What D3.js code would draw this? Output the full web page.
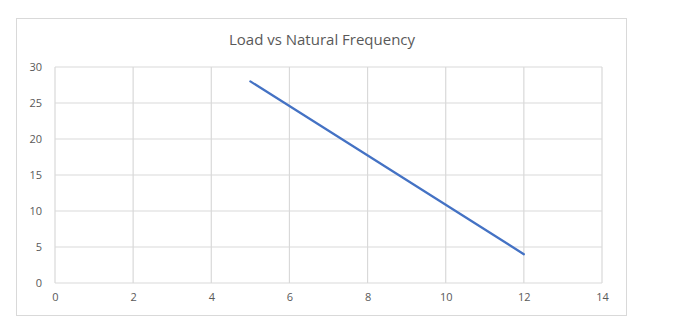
<!DOCTYPE html>
<html><head><meta charset="utf-8">
<script src="https://cdn.jsdelivr.net/npm/d3@7"></script>
<style>body{margin:0;background:#fff;}svg{display:block;}</style>
</head><body>
<script>
const title = "Load vs Natural Frequency";
const xValues = [5, 12];
const yValues = [28, 4];
const xTicks = [0, 2, 4, 6, 8, 10, 12, 14];
const yTicks = [0, 5, 10, 15, 20, 25, 30];

const W = 685, H = 327;
const svg = d3.select("body").append("svg").attr("width", W).attr("height", H);
svg.append("rect").attr("x", 16.5).attr("y", 18.5).attr("width", 610).attr("height", 297)
  .attr("fill", "#fff").attr("stroke", "#d9d9d9").attr("stroke-width", 1);

const x = d3.scaleLinear().domain([0, 14]).range([55, 602]);
const y = d3.scaleLinear().domain([0, 30]).range([283, 67]);
const font = "'Open Sans', 'Liberation Sans', sans-serif";

const g = svg.append("g");
g.selectAll(".vg").data(xTicks).join("line")
  .attr("x1", d => x(d)).attr("x2", d => x(d)).attr("y1", y(0)).attr("y2", y(30))
  .attr("stroke", "#d9d9d9").attr("stroke-width", 1.2);
g.selectAll(".hg").data(yTicks).join("line")
  .attr("x1", x(0)).attr("x2", x(14)).attr("y1", d => y(d)).attr("y2", d => y(d))
  .attr("stroke", "#d9d9d9").attr("stroke-width", 1.2);

const xa = svg.append("g").attr("transform", `translate(0,${y(0)})`)
  .call(d3.axisBottom(x).tickValues(xTicks).tickSize(0).tickPadding(10));
xa.select(".domain").remove();
xa.selectAll("text").attr("fill", "#595959").style("font-family", font).style("font-size", "11px");

const ya = svg.append("g").attr("transform", `translate(${x(0)},0)`)
  .call(d3.axisLeft(y).tickValues(yTicks).tickSize(0).tickPadding(13));
ya.select(".domain").remove();
ya.selectAll("text").attr("fill", "#595959").style("font-family", font).style("font-size", "11px");

const data = xValues.map((v, i) => [v, yValues[i]]);
svg.append("path").datum(data)
  .attr("d", d3.line().x(d => x(d[0])).y(d => y(d[1])))
  .attr("fill", "none").attr("stroke", "#4472C4").attr("stroke-width", 2.25).attr("stroke-linecap", "round");

svg.append("text").attr("x", 322).attr("y", 45).attr("text-anchor", "middle")
  .attr("fill", "#595959").style("font-family", font).style("font-size", "15px").text(title);
</script>
</body></html>
